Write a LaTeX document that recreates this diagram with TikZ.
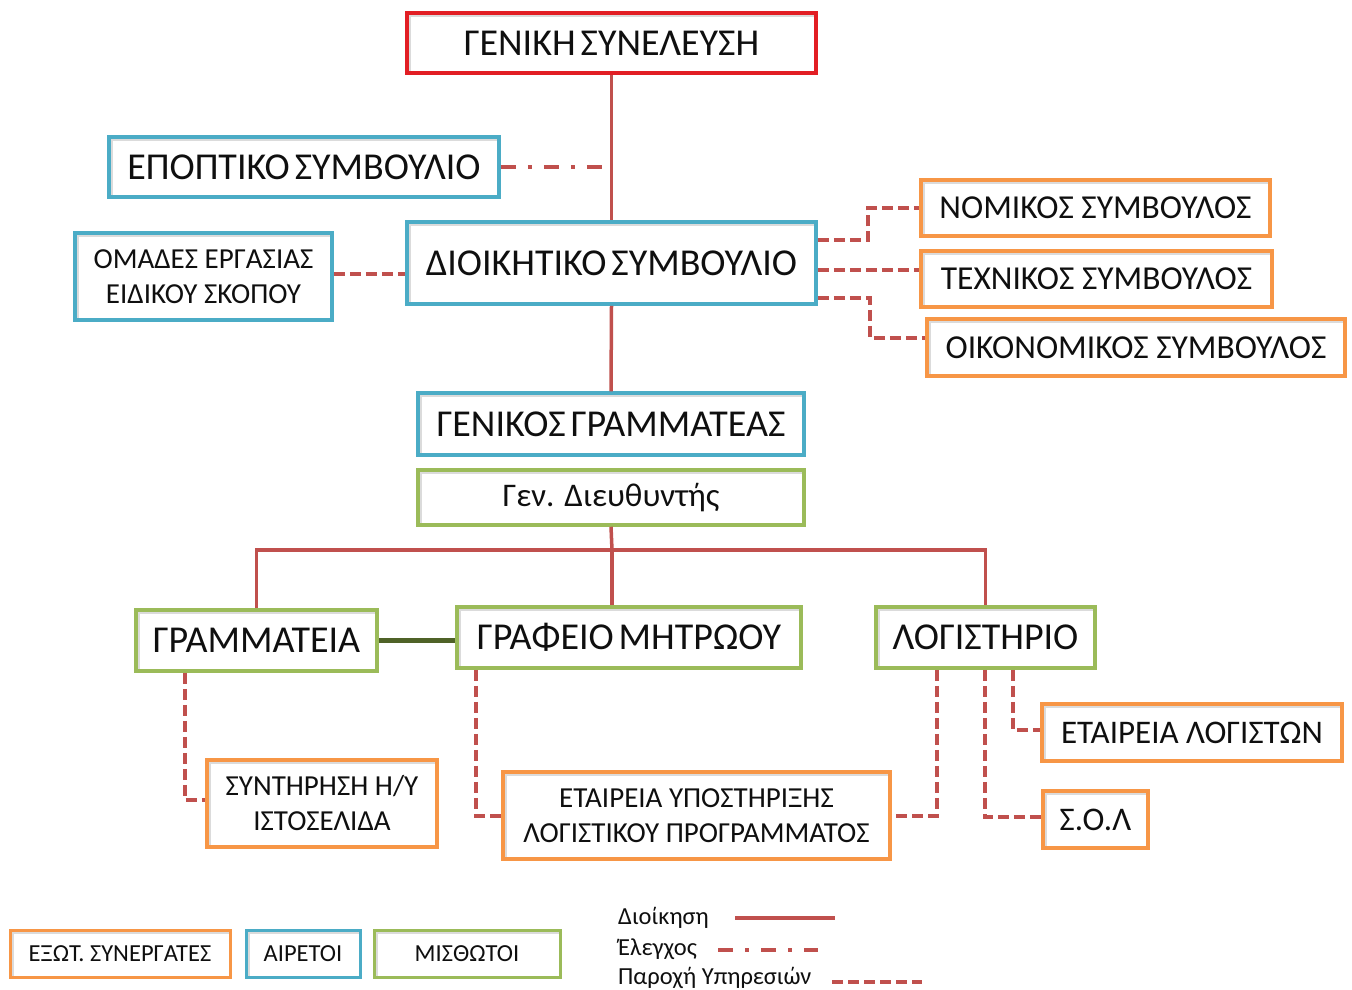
\documentclass[tikz,border=0pt]{standalone}
\usepackage{fontspec}
\setmainfont{Carlito}
\usetikzlibrary{shadows}
\definecolor{cred}{RGB}{226,30,36}
\definecolor{cblue}{RGB}{75,172,198}
\definecolor{corange}{RGB}{247,150,70}
\definecolor{cgreen}{RGB}{155,187,89}
\definecolor{cline}{RGB}{192,80,77}
\definecolor{cdgreen}{RGB}{79,98,40}
\definecolor{ctext}{RGB}{15,15,15}
\tikzset{
  box/.style={draw, line width=3.5pt, fill=white, inner sep=0pt, align=center, text=ctext,
    drop shadow={shadow xshift=1.5pt, shadow yshift=-2pt, opacity=0.22},
    path picture={
      \draw[black, opacity=0.14, line width=7pt]
        (path picture bounding box.south west) -- (path picture bounding box.north west)
        -- (path picture bounding box.north east);
    }},
  redbox/.style={box, draw=cred},
  bluebox/.style={box, draw=cblue},
  orbox/.style={box, draw=corange},
  grbox/.style={box, draw=cgreen},
  fbig/.style={font=\fontsize{38}{42}\selectfont},
  fmid/.style={font=\fontsize{38}{42}\selectfont},
  fadv/.style={font=\fontsize{33.5}{38}\selectfont},
  fsmall/.style={font=\fontsize{29}{35}\selectfont},
  fleg/.style={font=\fontsize{24.5}{28}\selectfont},
  adm/.style={draw=cline, line width=3.5pt},
  ctl/.style={draw=cline, line width=4pt, dash pattern=on 15pt off 12pt on 4pt off 12pt},
  svc/.style={draw=cline, line width=4pt, dash pattern=on 11pt off 5pt},
  grn/.style={draw=cdgreen, line width=5pt},
}
\newcommand{\nsp}{\hspace{5pt}}
\begin{document}
\begin{tikzpicture}[x=1pt,y=-1pt]
\useasboundingbox[fill=white] (0,0) rectangle (1352,989);
% boxes
\node[redbox, fbig, minimum width=409, minimum height=60] (gs) at (611.5,43) {ΓΕΝΙΚΗ\nsp ΣΥΝΕΛΕΥΣΗ};
\node[bluebox, fbig, minimum width=390, minimum height=60] (ep) at (304,167) {ΕΠΟΠΤΙΚΟ\nsp ΣΥΜΒΟΥΛΙΟ};
\node[bluebox, fbig, minimum width=409, minimum height=82] (ds) at (611.5,263) {ΔΙΟΙΚΗΤΙΚΟ\nsp ΣΥΜΒΟΥΛΙΟ};
\node[bluebox, fsmall, minimum width=257, minimum height=87] (om) at (203.5,276.5) {ΟΜΑΔΕΣ ΕΡΓΑΣΙΑΣ\\ΕΙΔΙΚΟΥ ΣΚΟΠΟΥ};
\node[orbox, fadv, minimum width=349, minimum height=56] (nom) at (1095.5,208) {ΝΟΜΙΚΟΣ ΣΥΜΒΟΥΛΟΣ};
\node[orbox, fadv, minimum width=351, minimum height=56] (tex) at (1096.5,279) {ΤΕΧΝΙΚΟΣ ΣΥΜΒΟΥΛΟΣ};
\node[orbox, fadv, minimum width=418, minimum height=57] (oik) at (1136,347.5) {ΟΙΚΟΝΟΜΙΚΟΣ ΣΥΜΒΟΥΛΟΣ};
\node[bluebox, fbig, minimum width=386, minimum height=62] (gg) at (611,424) {ΓΕΝΙΚΟΣ\nsp ΓΡΑΜΜΑΤΕΑΣ};
\node[grbox, font=\fontsize{33}{36}\selectfont, minimum width=386, minimum height=55] (gd) at (611,497.5) {Γεν. Διευθυντής};
\node[grbox, fmid, minimum width=241, minimum height=61] (gra) at (256.5,640.5) {ΓΡΑΜΜΑΤΕΙΑ};
\node[grbox, fmid, minimum width=344, minimum height=61] (graf) at (629,637.5) {ΓΡΑΦΕΙΟ\nsp ΜΗΤΡΩΟΥ};
\node[grbox, fmid, minimum width=219, minimum height=61] (log) at (985.5,637.5) {ΛΟΓΙΣΤΗΡΙΟ};
\node[orbox, fsmall, minimum width=230, minimum height=87] (syn) at (322,803.5) {ΣΥΝΤΗΡΗΣΗ Η/Υ\\ΙΣΤΟΣΕΛΙΔΑ};
\node[orbox, fsmall, minimum width=387, minimum height=87] (ety) at (696.5,815.5) {ΕΤΑΙΡΕΙΑ ΥΠΟΣΤΗΡΙΞΗΣ\\ΛΟΓΙΣΤΙΚΟΥ ΠΡΟΓΡΑΜΜΑΤΟΣ};
\node[orbox, font=\fontsize{33}{36}\selectfont, minimum width=300, minimum height=57] (etl) at (1192,732.5) {ΕΤΑΙΡΕΙΑ ΛΟΓΙΣΤΩΝ};
\node[orbox, font=\fontsize{33}{36}\selectfont, minimum width=105, minimum height=57] (sol) at (1095.5,819.5) {Σ.Ο.Λ};
% legend boxes
\node[orbox, fleg, line width=3pt, minimum width=220, minimum height=47] (l1) at (120,953.5) {ΕΞΩΤ. ΣΥΝΕΡΓΑΤΕΣ};
\node[bluebox, fleg, line width=3pt, minimum width=114, minimum height=47] (l2) at (303,953.5) {ΑΙΡΕΤΟΙ};
\node[grbox, fleg, line width=3pt, minimum width=186, minimum height=47] (l3) at (467,953.5) {ΜΙΣΘΩΤΟΙ};
% legend lines
\node[fleg, anchor=west, inner sep=0pt, text=ctext] (t1) at (618,918) {Διοίκηση};
\node[fleg, anchor=west, inner sep=0pt, text=ctext] (t2) at (618,949) {Έλεγχος};
\node[fleg, anchor=west, inner sep=0pt, text=ctext] (t3) at (618,978) {Παροχή Υπηρεσιών};
\coordinate (a1) at (735,918); \coordinate (b1) at (835,918);
\coordinate (a2) at (718,950); \coordinate (b2) at (818,950);
\coordinate (a3) at (832,982); \coordinate (b3) at (922,982);
\draw[adm] (a1) -- (b1);
\draw[ctl] (a2) -- (b2);
\draw[svc] (a3) -- (b3);
% connectors
\draw[adm] (gs.south) -- (ds.north);
\coordinate (epj) at (612,167);
\draw[ctl] (ep.east) -- (epj);
\draw[adm] (ds.south) -- (gg.north);
\draw[svc] (om.east |- 0,274) -- (ds.west |- 0,274);
\draw[svc] (ds.east |- 0,240) -- (868,240) |- (nom.west |- 0,208);
\draw[svc] (ds.east |- 0,270) -- (tex.west |- 0,270);
\draw[svc] (ds.east |- 0,298) -- (870,298) |- (oik.west |- 0,338);
\coordinate (bus) at (612,550);
\draw[adm] (gd.south) -- (bus);
\draw[adm] (gra.north) |- (bus) -| (log.north);
\draw[adm] (bus) -- (bus |- graf.north);
\draw[grn] (gra.east |- 0,640) -- (graf.west |- 0,640);
\draw[svc] (gra.south -| 185,0) |- (syn.west |- 0,800);
\draw[svc] (graf.south -| 476,0) |- (ety.west);
\draw[svc] (log.south -| 937,0) |- (ety.east);
\draw[svc] (log.south -| 985,0) |- (sol.west |- 0,817);
\draw[svc] (log.south -| 1013,0) |- (etl.west |- 0,730);
\end{tikzpicture}
\end{document}
